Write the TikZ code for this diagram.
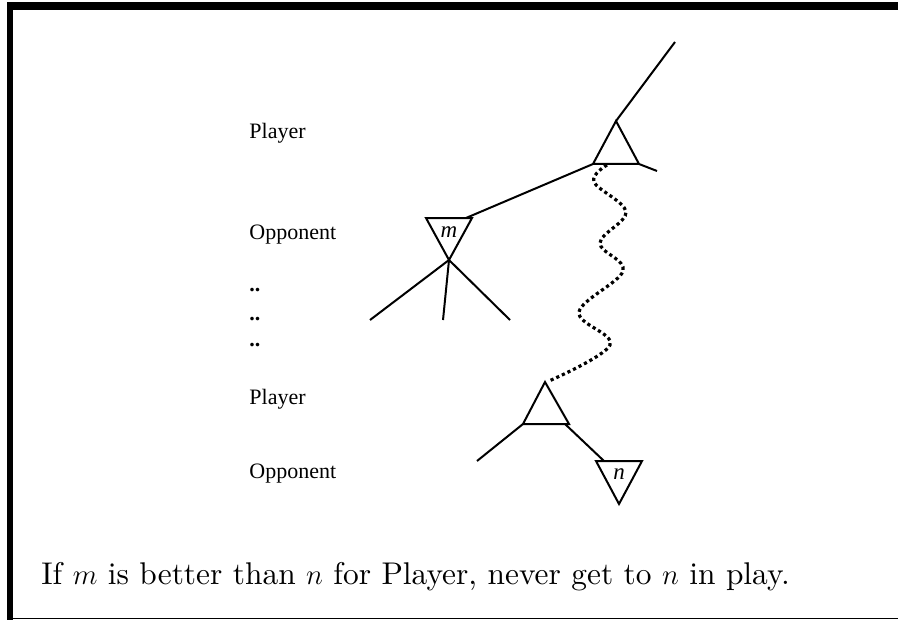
\documentclass[tikz,border=0pt]{standalone}
\usepackage{fontspec}
\newfontfamily\timesfont{Liberation Serif}
\newfontfamily\capfont{lmroman10-regular.otf}
\usepackage{tikz}
\usetikzlibrary{calc}

\begin{document}
\begin{tikzpicture}[x=0.5pt, y=-0.5pt, line join=miter, edge/.style={line width=1pt}, lbl/.style={font=\timesfont\fontsize{11}{13}\selectfont, anchor=base west, inner sep=0pt}, val/.style={font=\timesfont\itshape\fontsize{11.5}{13}\selectfont, inner sep=0pt}, wave/.style={line width=1.6pt, dash pattern=on 1.6pt off 1.5pt}]
\useasboundingbox (0,0) rectangle (898,620);
% frame
\fill (7,2) rectangle (898,10);
\fill (7,2) rectangle (13,620);
\draw[line width=0.5pt] (7,618.5) -- (898,618.5);
% level labels
\node[lbl] (pl1) at (249,139) {Player};
\node[lbl] (op1) at (249,240) {Opponent};
\node[lbl] (d1) at (249,291) {\bfseries ..};
\node[lbl] (d2) at (249,320) {\bfseries ..};
\node[lbl] (d3) at (249,346) {\bfseries ..};
\node[lbl] (pl2) at (249,404) {Player};
\node[lbl] (op2) at (249,478) {Opponent};
% top player node
\coordinate (a1) at (616,121); \coordinate (a1l) at (593,164); \coordinate (a1r) at (639,164);
\coordinate (root) at (675,42); \coordinate (a1x) at (657,171);
\draw[edge] (a1l) -- (a1) -- (a1r) -- cycle;
\draw[edge] (a1) -- (root);
\draw[edge] (a1r) -- (a1x);
% opponent node m
\coordinate (ml) at (426,218); \coordinate (mr) at (472,218); \coordinate (mb) at (449,260);
\coordinate (me) at (466,218);
\draw[edge] (ml) -- (mr) -- (mb) -- cycle;
\node[val] (m) at (449,232) {m};
\draw[edge] (a1l) -- (me);
\coordinate (m1) at (370,320); \coordinate (m2) at (443,320); \coordinate (m3) at (510,320);
\draw[edge] (mb) -- (m1);
\draw[edge] (mb) -- (m2);
\draw[edge] (mb) -- (m3);
% lower player node
\coordinate (a2) at (545,382); \coordinate (a2l) at (523,424); \coordinate (a2r) at (569,424);
\coordinate (a2x) at (477,461); \coordinate (a2s) at (565,424);
\draw[edge] (a2l) -- (a2) -- (a2r) -- cycle;
\draw[edge] (a2l) -- (a2x);
% opponent node n
\coordinate (nl) at (596,461); \coordinate (nr) at (642,461); \coordinate (nb) at (619,504);
\coordinate (ne) at (604,461);
\draw[edge] (nl) -- (nr) -- (nb) -- cycle;
\node[val] (n) at (619,474) {n};
\draw[edge] (a2s) -- (ne);
% long line of play
\coordinate (w0) at (607,165);
\draw[wave] plot[smooth, tension=0.6] coordinates {(w0) (594,182) (626,212) (600,243) (623,271) (579,312) (610,345) (549,381)};
% caption
\node[anchor=base west, inner sep=0pt, font=\capfont\fontsize{15.7}{19}\selectfont] (cap) at (41,584) {If $m$ is better than $n$ for Player, never get to $n$ in play.};
\end{tikzpicture}
\end{document}
